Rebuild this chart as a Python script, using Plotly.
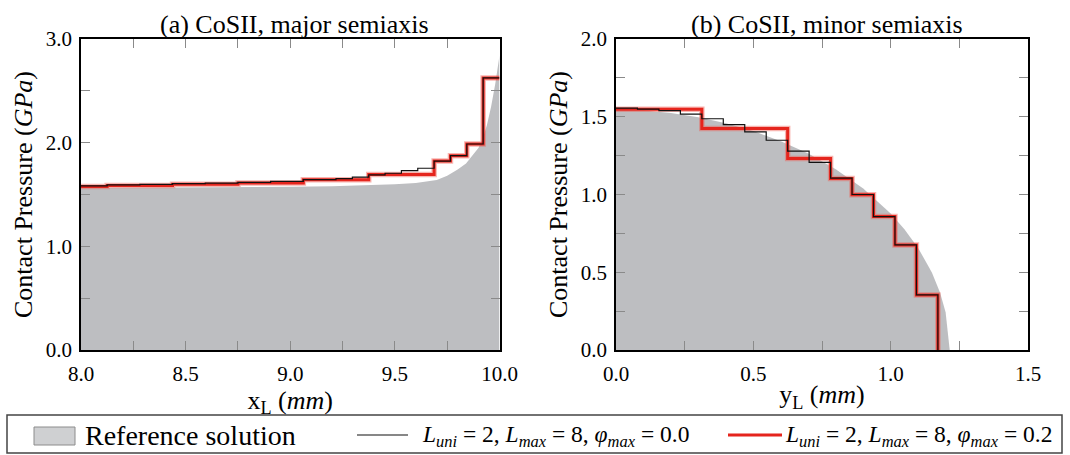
import plotly.graph_objects as go

# ---------------- data ----------------
# (a) major semiaxis
ref_a_x = [8.0, 8.25, 8.5, 8.75, 9.0, 9.2, 9.4, 9.5, 9.6, 9.65, 9.7, 9.75, 9.8, 9.84, 9.87, 9.9, 9.92, 9.94, 9.96, 9.98, 10.0]
ref_a_p = [1.562, 1.564, 1.566, 1.569, 1.574, 1.580, 1.590, 1.598, 1.610, 1.622, 1.640, 1.680, 1.740, 1.800, 1.870, 1.950, 2.040, 2.170, 2.350, 2.570, 2.840]

blk_a_edges = [8.0, 8.125, 8.28125, 8.4375, 8.59375, 8.75, 8.90625, 9.0625, 9.21875, 9.296875, 9.375,
               9.453125, 9.53125, 9.609375, 9.6875, 9.765625, 9.84375, 9.921875, 10.0]
blk_a_p = [1.584, 1.592, 1.598, 1.604, 1.610, 1.617, 1.626, 1.643, 1.654, 1.667, 1.689, 1.705, 1.731, 1.753,
           1.822, 1.875, 1.987, 2.625]

red_a_edges = [8.0, 8.125, 8.4375, 8.75, 9.0625, 9.375, 9.6875, 9.765625, 9.84375, 9.921875, 10.0]
red_a_p = [1.578, 1.588, 1.598, 1.612, 1.643, 1.693, 1.822, 1.875, 1.987, 2.625]

# (b) minor semiaxis
ref_b_y = [0.0, 0.1, 0.2, 0.3, 0.4, 0.5, 0.6, 0.7, 0.8, 0.9, 1.0, 1.05, 1.1, 1.15, 1.18, 1.2, 1.215]
ref_b_p = [1.545, 1.540, 1.524, 1.497, 1.459, 1.408, 1.343, 1.263, 1.163, 1.038, 0.878, 0.777, 0.656, 0.499, 0.368, 0.242, 0.0]

blk_b_edges = [0.0, 0.078125, 0.15625, 0.234375, 0.3125, 0.390625, 0.46875, 0.546875, 0.625, 0.703125,
               0.78125, 0.859375, 0.9375, 1.015625, 1.09375, 1.171875]
blk_b_p = [1.555, 1.549, 1.539, 1.517, 1.487, 1.450, 1.403, 1.349, 1.279, 1.206, 1.105, 1.000, 0.858, 0.676, 0.354]

red_b_edges = [0.0, 0.3125, 0.625, 0.78125, 0.859375, 0.9375, 1.015625, 1.09375, 1.171875]
red_b_p = [1.549, 1.424, 1.231, 1.103, 0.999, 0.858, 0.676, 0.354]

titles = ["(a) CoSII, major semiaxis", "(b) CoSII, minor semiaxis"]
legend_labels = ["Reference solution",
                 "<i>L</i><sub><i>uni</i></sub> = 2, <i>L</i><sub><i>max</i></sub> = 8, <i>φ</i><sub><i>max</i></sub> = 0.0",
                 "<i>L</i><sub><i>uni</i></sub> = 2, <i>L</i><sub><i>max</i></sub> = 8, <i>φ</i><sub><i>max</i></sub> = 0.2"]

# ---------------- styling ----------------
W, H = 1070, 455
ML, MR, MT, MB = 81, 42, 39, 105
PW, PH = W - ML - MR, H - MT - MB
FONT = "Liberation Serif, serif"
GRAY = "#bdbec1"
RED = "#e5251d"


def px(x):
    return (x - ML) / PW


def py(y):
    return (H - MB - y) / PH


def steps(edges, vals, drop=False):
    xs = list(edges)
    ys = list(vals) + [vals[-1]]
    if drop:
        xs = xs + [edges[-1]]
        ys = ys + [0.0]
    return xs, ys


fig = go.Figure()

# panel a
fig.add_trace(go.Scatter(x=ref_a_x, y=ref_a_p, mode="lines", fill="tozeroy", fillcolor=GRAY,
                         line=dict(width=0, color=GRAY), showlegend=False, xaxis="x", yaxis="y"))
xs, ys = steps(red_a_edges, red_a_p)
fig.add_trace(go.Scatter(x=xs, y=ys, mode="lines", line=dict(color="rgba(240,90,80,0.45)", width=5.5, shape="hv"),
                         showlegend=False, hoverinfo="skip", xaxis="x", yaxis="y"))
fig.add_trace(go.Scatter(x=xs, y=ys, mode="lines", line=dict(color=RED, width=3, shape="hv"),
                         showlegend=False, xaxis="x", yaxis="y"))
xs, ys = steps(blk_a_edges, blk_a_p)
fig.add_trace(go.Scatter(x=xs, y=ys, mode="lines", line=dict(color="#111111", width=1.2, shape="hv"),
                         showlegend=False, xaxis="x", yaxis="y"))

# panel b
fig.add_trace(go.Scatter(x=ref_b_y, y=ref_b_p, mode="lines", fill="tozeroy", fillcolor=GRAY,
                         line=dict(width=0, color=GRAY), showlegend=False, xaxis="x2", yaxis="y2"))
xs, ys = steps(red_b_edges, red_b_p, drop=True)
fig.add_trace(go.Scatter(x=xs, y=ys, mode="lines", line=dict(color="rgba(240,90,80,0.45)", width=5.5, shape="hv"),
                         showlegend=False, hoverinfo="skip", xaxis="x2", yaxis="y2"))
fig.add_trace(go.Scatter(x=xs, y=ys, mode="lines", line=dict(color=RED, width=3, shape="hv"),
                         showlegend=False, xaxis="x2", yaxis="y2"))
xs, ys = steps(blk_b_edges, blk_b_p, drop=True)
fig.add_trace(go.Scatter(x=xs, y=ys, mode="lines", line=dict(color="#111111", width=1.2, shape="hv"),
                         showlegend=False, xaxis="x2", yaxis="y2"))

tickfont = dict(family=FONT, size=21, color="black")
titlefont = dict(family=FONT, size=26, color="black")
minor_style = dict(ticks="inside", ticklen=9, tickcolor="#8a8a8a", showgrid=False)


def ax(**kw):
    d = dict(showline=True, linecolor="black", linewidth=1.5, mirror="ticks",
             ticks="inside", ticklen=9, tickcolor="#8a8a8a", tickwidth=1,
             showgrid=False, zeroline=False, tickfont=tickfont, tickformat=".1f")
    d.update(kw)
    return d


left_dom = [0, px(499.5)]
right_dom = [px(616), 1.0]

fig.update_layout(
    width=W, height=H,
    margin=dict(l=ML, r=MR, t=MT, b=MB),
    paper_bgcolor="white", plot_bgcolor="white",
    font=dict(family=FONT, color="black"),
    xaxis=ax(domain=left_dom, range=[8.0, 10.0], dtick=0.5, tick0=8.0, ticklabelstandoff=4,
             minor=dict(dtick=0.25, **minor_style),
             title=dict(text="x<sub>L</sub> (<i>mm</i>)", font=titlefont, standoff=0), anchor="y"),
    yaxis=ax(domain=[0, 1], range=[0, 3.0], dtick=1.0, tick0=0, ticklabelstandoff=3,
             minor=dict(dtick=0.5, **minor_style),
             title=dict(text="Contact Pressure (<i>GPa</i>)", font=titlefont, standoff=6), anchor="x"),
    xaxis2=ax(domain=right_dom, range=[0, 1.5], dtick=0.5, tick0=0, ticklabelstandoff=4,
              minor=dict(dtick=0.25, **minor_style),
              title=dict(text="y<sub>L</sub> (<i>mm</i>)", font=titlefont, standoff=0), anchor="y2"),
    yaxis2=ax(domain=[0, 1], range=[0, 2.0], dtick=0.5, tick0=0, ticklabelstandoff=3,
              minor=dict(dtick=0.25, **minor_style),
              title=dict(text="Contact Pressure (<i>GPa</i>)", font=titlefont, standoff=6), anchor="x2"),
    showlegend=False,
)

# subplot titles
for dom, t in zip([left_dom, right_dom], titles):
    fig.add_annotation(text=t, xref="paper", yref="paper", x=(dom[0] + dom[1]) / 2 + 0.005, y=py(24),
                       xanchor="center", yanchor="middle", showarrow=False,
                       font=dict(family=FONT, size=26, color="black"))

# legend box (drawn manually)
fig.add_shape(type="rect", xref="paper", yref="paper", x0=px(7), x1=px(1062), y0=py(415), y1=py(453),
              line=dict(color="#444444", width=1.5), fillcolor="white", layer="below")
fig.add_shape(type="rect", xref="paper", yref="paper", x0=px(34), x1=px(75), y0=py(427), y1=py(445),
              line=dict(color="#8c8c8c", width=1), fillcolor="#cfd0d2")
fig.add_shape(type="line", xref="paper", yref="paper", x0=px(357), x1=px(408), y0=py(435), y1=py(435),
              line=dict(color="#111111", width=1.2))
fig.add_shape(type="line", xref="paper", yref="paper", x0=px(728), x1=px(782), y0=py(435), y1=py(435),
              line=dict(color=RED, width=3))
for xpix, lab, fs in zip([83, 420, 783], legend_labels, [28, 23.5, 23.5]):
    fig.add_annotation(text=lab, xref="paper", yref="paper", x=px(xpix), y=py(436),
                       xanchor="left", yanchor="middle", showarrow=False,
                       font=dict(family=FONT, size=fs, color="black"))

fig.write_html("out.html", config={"displayModeBar": False},
               post_script="document.body.style.margin='0';document.body.style.overflow='hidden';")
